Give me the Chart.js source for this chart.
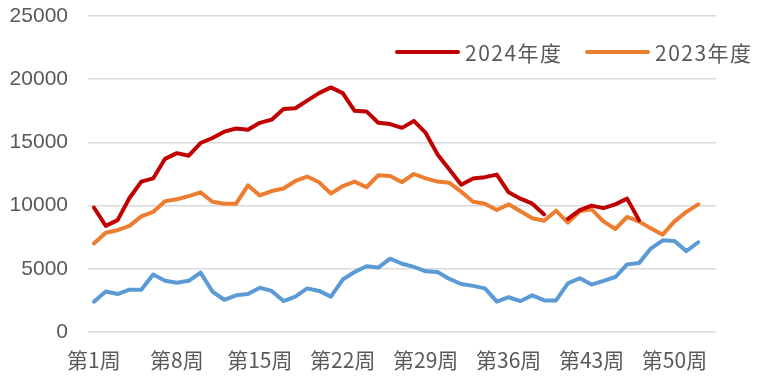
<!DOCTYPE html>
<html>
<head>
<meta charset="utf-8">
<script src="https://cdn.jsdelivr.net/npm/chart.js@4/dist/chart.umd.min.js"></script>
<style>
  body { margin: 0; background: #fff; }
  #wrap { position: relative; width: 759px; height: 384px; }
  .leg { position: absolute; top: 38px; height: 28px; display: flex; align-items: center;
         font-family: "Noto Sans CJK SC", sans-serif; font-size: 21px; color: #595959; letter-spacing: 1.5px; }
  .leg span.ln { display: inline-block; width: 65px; height: 4px; border-radius: 2px; margin-right: 5px; }
</style>
</head>
<body>
<div id="wrap">
  <canvas id="chart" width="759" height="384"></canvas>
  <div class="leg" style="left:395px"><span class="ln" style="background:#C00000"></span>2024年度</div>
  <div class="leg" style="left:585px"><span class="ln" style="background:#ED7D31"></span>2023年度</div>
</div>
<script>
// Week labels 第1周 .. 第53周
const WEEKS = [];
for (let i = 1; i <= 53; i++) WEEKS.push("第" + i + "周");

// Y axis ticks
const Y_TICKS = [0, 5000, 10000, 15000, 20000, 25000];

// 2024年度 (red), gap at week 40, ends at week 47
const data_2024 = [9850, 8400, 8850, 10600, 11900, 12150, 13700, 14150, 13950, 14950,
  15350, 15850, 16100, 16000, 16550, 16800, 17650, 17700, 18300, 18900,
  19350, 18900, 17500, 17450, 16550, 16450, 16150, 16700, 15750, 14050,
  12850, 11650, 12150, 12250, 12450, 11050, 10550, 10150, 9300, null,
  8950, 9650, 10000, 9800, 10100, 10550, 8850, null, null, null,
  null, null, null];

// 2023年度 (orange)
const data_2023 = [7000, 7850, 8050, 8400, 9150, 9500, 10350, 10500, 10750, 11050,
  10300, 10150, 10150, 11600, 10800, 11150, 11350, 11950, 12300, 11850,
  10950, 11550, 11900, 11450, 12400, 12350, 11850, 12500, 12150, 11900,
  11800, 11100, 10300, 10150, 9650, 10100, 9550, 9000, 8800, 9600,
  8650, 9550, 9700, 8750, 8150, 9100, 8750, 8200, 7700, 8750,
  9500, 10100, null];

// third series (blue), not in legend
const data_other = [2400, 3200, 3000, 3350, 3350, 4550, 4050, 3900, 4050, 4700,
  3200, 2550, 2900, 3000, 3500, 3250, 2450, 2800, 3450, 3250,
  2800, 4150, 4750, 5200, 5100, 5800, 5400, 5150, 4800, 4750,
  4200, 3800, 3650, 3450, 2400, 2750, 2450, 2900, 2500, 2500,
  3850, 4250, 3750, 4050, 4350, 5350, 5450, 6600, 7250, 7200,
  6400, 7100, null];

function lineSet(label, data, color) {
  return {
    label: label,
    data: data,
    borderColor: color,
    backgroundColor: color,
    borderWidth: 4,
    pointRadius: 0,
    tension: 0,
    spanGaps: false,
    borderJoinStyle: "round",
    borderCapStyle: "round"
  };
}

const ctx = document.getElementById("chart").getContext("2d");
const chart = new Chart(ctx, {
  type: "line",
  data: {
    labels: WEEKS,
    datasets: [
      lineSet("2024年度", data_2024, "#C00000"),
      lineSet("2023年度", data_2023, "#ED7D31"),
      lineSet("其他", data_other, "#5B9BD5")
    ]
  },
  options: {
    responsive: false,
    animation: false,
    devicePixelRatio: 1,
    layout: { padding: { top: 16, right: 43, bottom: 0, left: 0 } },
    plugins: { legend: { display: false }, tooltip: { enabled: false } },
    scales: {
      x: {
        offset: true,
        grid: { display: false, drawTicks: false },
        border: { display: false },
        ticks: {
          autoSkip: false,
          maxRotation: 0,
          padding: 15,
          color: "#595959",
          font: { family: "Noto Sans CJK SC", size: 21 },
          callback: function(v, i) { return i % 7 === 0 ? WEEKS[i] : ""; }
        },
        afterFit: function(s) { s.height = 52; }
      },
      y: {
        min: Y_TICKS[0],
        max: Y_TICKS[Y_TICKS.length - 1],
        afterBuildTicks: function(s) { s.ticks = Y_TICKS.map(v => ({ value: v })); },
        grid: { color: "#D9D9D9", lineWidth: 1.5, drawTicks: false },
        border: { display: false },
        ticks: {
          padding: 20,
          color: "#595959",
          font: { family: "Liberation Sans", size: 21 },
          callback: function(v) { return String(v); }
        },
        afterFit: function(s) {
          s.width = 88;
          // the tick padding should not push the plot area down
          s.paddingTop = 0;
          s.paddingBottom = 0;
        }
      }
    }
  }
});
</script>
</body>
</html>
